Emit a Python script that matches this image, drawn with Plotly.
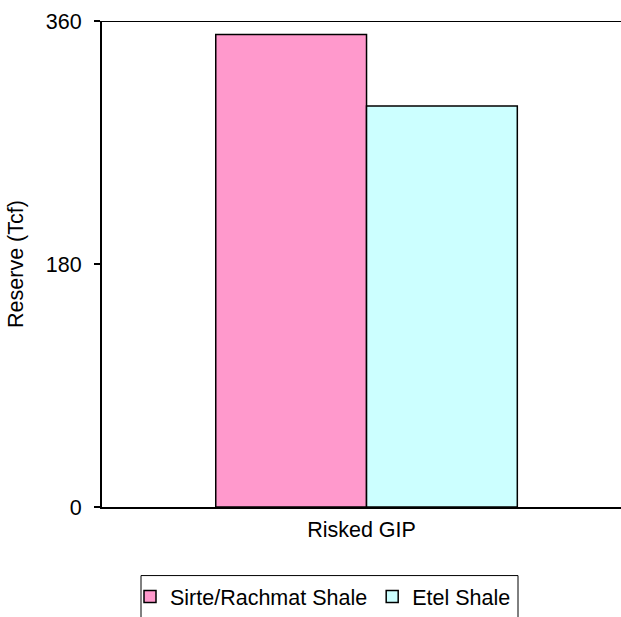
import plotly.graph_objects as go

categories = ["Risked GIP"]
series_names = ["Sirte/Rachmat Shale", "Etel Shale"]
sirte_values = [350]
etel_values = [297]
colors = ["#FF99CC", "#CCFFFF"]
y_ticks = [0, 180, 360]

W, H = 621, 617
L, R, T, B = 102, 0, 21, 107
FONT = "Liberation Sans, Arial, sans-serif"
FS = 21.5

fig = go.Figure()
for name, vals, col in zip(series_names, [sirte_values, etel_values], colors):
    fig.add_trace(go.Bar(
        x=categories, y=vals, name=name,
        marker=dict(color=col, line=dict(color="black", width=1.5)),
    ))

plot_h = H - T - B
plot_w = W - L - R
legend_top = 579
fig.update_layout(
    width=W, height=H,
    margin=dict(l=L, r=R, t=T, b=B, pad=0),
    paper_bgcolor="white", plot_bgcolor="white",
    font=dict(family=FONT, size=FS, color="black"),
    barmode="group", bargap=0.43, bargroupgap=0,
    showlegend=True,
    legend=dict(
        orientation="h", x=(130 - L) / plot_w, xanchor="left",
        y=-(legend_top + 1 - (H - B)) / plot_h, yanchor="top",
        font=dict(size=FS, family=FONT), bgcolor="rgba(0,0,0,0)",
        borderwidth=0, itemwidth=30, traceorder="normal",
    ),
    xaxis=dict(
        type="category", range=[-0.5, 0.481],
        showline=True, linecolor="black", linewidth=2,
        showticklabels=False, ticks="", showgrid=False, zeroline=False,
        title=dict(text=categories[0], font=dict(size=FS), standoff=14),
    ),
    yaxis=dict(
        range=[0, 360], tickvals=y_ticks, ticktext=[str(v) for v in y_ticks],
        showline=True, linecolor="black", linewidth=2,
        ticks="outside", ticklen=6, tickwidth=1.5, tickcolor="black",
        ticklabelstandoff=8,
        showgrid=False, zeroline=False,
        tickfont=dict(size=FS),
        title=dict(text="Reserve (Tcf)", font=dict(size=FS), standoff=16),
    ),
)

# top line at 360
fig.add_shape(type="line", xref="paper", yref="y", x0=0, x1=1, y0=360, y1=360,
              line=dict(color="black", width=2), layer="above")
# legend box extending below the image edge
fig.add_shape(type="rect", xref="paper", yref="paper",
              x0=(141 - L) / plot_w, x1=(518 - L) / plot_w,
              y0=-(legend_top - (H - B)) / plot_h, y1=-(H + 20 - (H - B)) / plot_h,
              line=dict(color="black", width=1), fillcolor="rgba(0,0,0,0)", layer="above")

fig.write_html("out.html")
